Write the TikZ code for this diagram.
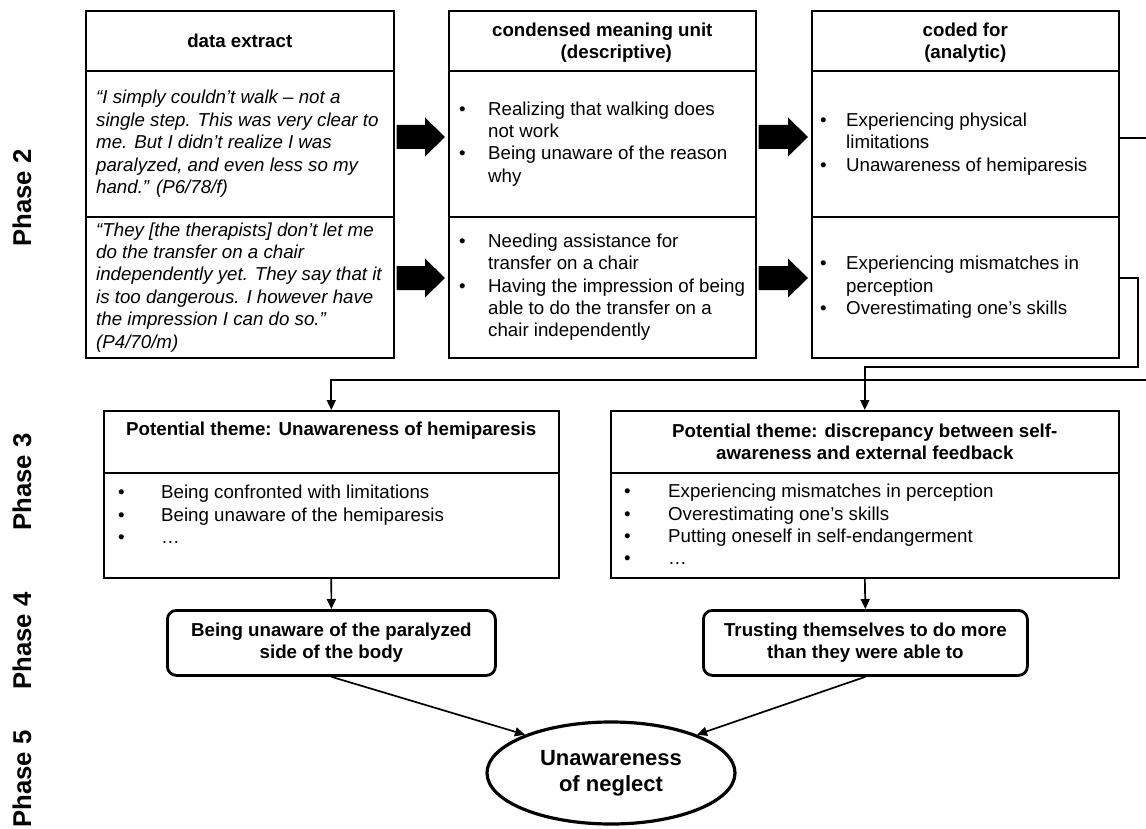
\documentclass[tikz,border=0pt]{standalone}
\usepackage{fontspec}
\setmainfont{Liberation Sans}
\usetikzlibrary{calc,arrows.meta,shapes.geometric}
\newcommand\fs{\fontsize{18.7}{22.4}\selectfont}
\newcommand\bl[1]{\makebox[#1][l]{•}}
\newcommand\blkarrow[3]{%
\fill ($(#1.east |- 0,#3)+(2,12)$) -- ($(#2.west |- 0,#3)+(-23,12)$) -- ($(#2.west |- 0,#3)+(-23,19.5)$) -- ($(#2.west |- 0,#3)+(-3,0)$) -- ($(#2.west |- 0,#3)+(-23,-19.5)$) -- ($(#2.west |- 0,#3)+(-23,-12)$) -- ($(#1.east |- 0,#3)+(2,-12)$) -- cycle;}
\begin{document}
\begin{tikzpicture}[x=1pt,y=-1pt,
  cell/.style={draw, line width=1.6pt, inner sep=0, anchor=north west},
  txt/.style={inner sep=0, align=left, font=\fs},
  hdr/.style={inner sep=0, align=center, font=\fs\bfseries},
  conn/.style={line width=1.7pt, -{Triangle[length=10pt,width=9pt]}},
  phase/.style={rotate=90, font=\fontsize{25.7}{30}\selectfont\bfseries, inner sep=0},
  rbox/.style={draw, line width=2.8pt, rounded corners=9pt, inner sep=0, anchor=north west, align=center, font=\fs\bfseries},
]
\useasboundingbox (0,0) rectangle (1146,829);

% Phase 2 table
\node[cell, minimum width=308pt, minimum height=60pt] (d0) at (85,10) {};
\node[cell, minimum width=308pt, minimum height=146pt] (d1) at (85,70) {};
\node[cell, minimum width=308pt, minimum height=141pt] (d2) at (85,216) {};
\node[cell, minimum width=307pt, minimum height=60pt] (c0) at (448,10) {};
\node[cell, minimum width=307pt, minimum height=146pt] (c1) at (448,70) {};
\node[cell, minimum width=307pt, minimum height=141pt] (c2) at (448,216) {};
\node[cell, minimum width=307pt, minimum height=60pt] (k0) at (811,10) {};
\node[cell, minimum width=307pt, minimum height=146pt] (k1) at (811,70) {};
\node[cell, minimum width=307pt, minimum height=141pt] (k2) at (811,216) {};

\node[hdr] (d0t) at (d0.center) {data extract};
\node[hdr] (c0t) at ([yshift=-2pt]c0.center) {condensed meaning unit\\\hspace*{28pt}(descriptive)};
\node[hdr] (k0t) at ([yshift=-2pt]k0.center) {coded for\\(analytic)};

\node[txt, anchor=west, font=\fs\itshape] (d1t) at ([xshift=11pt]d1.west) {“I simply couldn’t walk – not a\\single step. This was very clear to\\me. But I didn’t realize I was\\paralyzed, and even less so my\\hand.” (P6/78/f)};
\node[txt, anchor=west, font=\fs\itshape] (d2t) at ([xshift=11pt]d2.west) {“They [the therapists] don’t let me\\do the transfer on a chair\\independently yet. They say that it\\is too dangerous. I however have\\the impression I can do so.”\\(P4/70/m)};

\node[txt, anchor=west] (c1t) at ([xshift=11pt]c1.west) {\bl{29pt}Realizing that walking does\\\hspace*{29pt}not work\\\bl{29pt}Being unaware of the reason\\\hspace*{29pt}why};
\node[txt, anchor=west] (c2t) at ([xshift=11pt]c2.west) {\bl{29pt}Needing assistance for\\\hspace*{29pt}transfer on a chair\\\bl{29pt}Having the impression of being\\\hspace*{29pt}able to do the transfer on a\\\hspace*{29pt}chair independently};

\node[txt, anchor=west] (k1t) at ([xshift=9pt]k1.west) {\bl{26pt}Experiencing physical\\\hspace*{26pt}limitations\\\bl{26pt}Unawareness of hemiparesis};
\node[txt, anchor=west] (k2t) at ([xshift=9pt]k2.west) {\bl{26pt}Experiencing mismatches in\\\hspace*{26pt}perception\\\bl{26pt}Overestimating one’s skills};

\blkarrow{d1}{c1}{137}
\blkarrow{d2}{c2}{278}
\blkarrow{c1}{k1}{137}
\blkarrow{c2}{k2}{278}

% Phase 3
\node[cell, minimum width=455pt, minimum height=62pt] (t1h) at (103,410) {};
\node[cell, minimum width=455pt, minimum height=105pt] (t1b) at (103,472) {};
\node[cell, minimum width=508pt, minimum height=62pt] (t2h) at (610,410) {};
\node[cell, minimum width=508pt, minimum height=105pt] (t2b) at (610,472) {};
\node[hdr] (t1ht) at ([yshift=11pt]t1h.center) {Potential theme: Unawareness of hemiparesis};
\node[hdr] (t2ht) at (t2h.center) {Potential theme: discrepancy between self-\\awareness and external feedback};
\node[txt, anchor=north west] (t1bt) at ([xshift=15pt,yshift=-13pt]t1b.north west) {\bl{43pt}Being confronted with limitations\\\bl{43pt}Being unaware of the hemiparesis\\\bl{43pt}…};
\node[txt, anchor=north west] (t2bt) at ([xshift=14pt,yshift=-12pt]t2b.north west) {\bl{44pt}Experiencing mismatches in perception\\\bl{44pt}Overestimating one’s skills\\\bl{44pt}Putting oneself in self-endangerment\\\bl{44pt}…};

% Phase 4
\node[rbox, minimum width=328pt, minimum height=65pt] (p1) at (166,609) {Being unaware of the paralyzed\\side of the body};
\node[rbox, minimum width=324pt, minimum height=65pt] (p2) at (702,609) {Trusting themselves to do more\\than they were able to};

% Phase 5
\node[draw, ellipse, line width=3.2pt, minimum width=248pt, minimum height=102pt, inner sep=0, align=center, font=\fontsize{22}{26}\selectfont\bfseries] (el) at (611,773) {Unawareness\\of neglect};

% Phase labels
\node[phase] (ph2) at (22,198) {Phase 2};
\node[phase] (ph3) at (22,482) {Phase 3};
\node[phase] (ph4) at (22,641) {Phase 4};
\node[phase] (ph5) at (22,779) {Phase 5};

% connectors
\begin{scope}
\clip (0,0) rectangle (1146,829);
\draw[conn] (k1.east |- 0,138) -- (1152,138) -- (1152,380) -- (t1h.north |- 0,380) -- (t1h.north);
\end{scope}
\draw[conn] (k2.east |- 0,278) -- (1138,278) -- (1138,367) -- (t2h.north |- 0,367) -- (t2h.north);
\draw[conn] (t1b.south) -- (p1.north);
\draw[conn] (t2b.south) -- (p2.north);
\draw[conn] (p1.south) -- (el.156);
\draw[conn] (p2.south) -- (el.24);
\end{tikzpicture}
\end{document}
